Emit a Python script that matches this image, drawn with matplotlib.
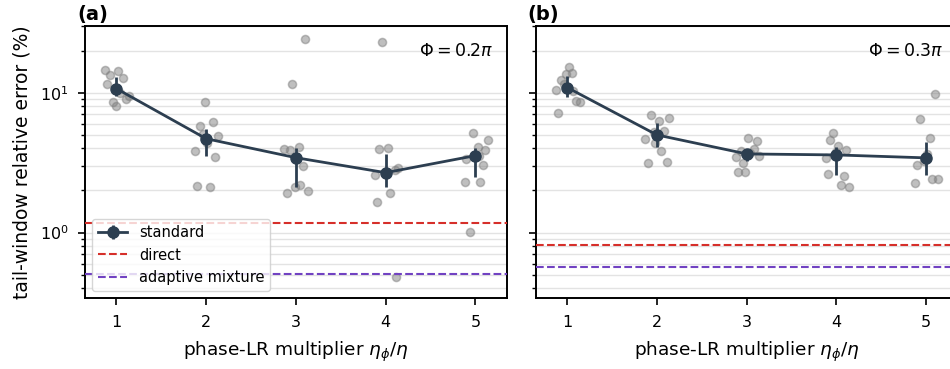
import numpy as np
import matplotlib
matplotlib.use("Agg")
import matplotlib.pyplot as plt

# --------------------------------------------------
# data
# --------------------------------------------------
mult = [1, 2, 3, 4, 5]

# panel (a): Phi = 0.2 pi
mean_a = [10.7, 4.69, 3.43, 2.68, 3.55]
lo_a = [9.4, 3.55, 2.13, 2.10, 2.50]
hi_a = [13.0, 5.53, 4.05, 3.67, 4.05]
seeds_a = [
    [14.5, 13.4, 14.2, 12.7, 11.5, 8.6, 8.0, 9.0, 9.5, 10.0],
    [8.58, 5.78, 6.21, 4.93, 3.81, 3.47, 2.16, 2.11, 4.35, 5.07],
    [11.5, 24.2, 3.98, 3.92, 4.11, 2.98, 1.91, 2.11, 2.19, 1.97],
    [23.2, 3.98, 4.05, 2.58, 2.91, 2.82, 1.93, 1.64, 0.48, 2.70],
    [5.15, 4.61, 4.06, 3.87, 3.36, 3.05, 2.30, 2.31, 1.01, 3.55],
]
jit_a = [
    [-0.13, -0.07, 0.02, 0.07, -0.10, -0.04, -0.01, 0.11, 0.14, 0.04],
    [-0.01, -0.07, 0.08, 0.13, -0.13, 0.10, -0.10, 0.04, 0.01, -0.03],
    [-0.04, 0.10, -0.13, -0.07, 0.03, 0.08, -0.10, -0.01, 0.05, 0.13],
    [-0.04, -0.07, 0.03, -0.12, 0.14, 0.10, 0.05, -0.10, 0.11, 0.01],
    [-0.03, 0.14, 0.03, 0.11, -0.10, 0.08, -0.12, 0.05, -0.06, 0.04],
]
direct_a = 1.17
adaptive_a = 0.507

# panel (b): Phi = 0.3 pi
mean_b = [10.9, 4.99, 3.65, 3.59, 3.42]
lo_b = [9.25, 4.06, 3.27, 2.59, 2.59]
hi_b = [13.2, 6.04, 3.96, 4.11, 4.47]
seeds_b = [
    [15.4, 13.6, 13.8, 12.4, 11.5, 10.4, 10.3, 8.77, 8.53, 7.2],
    [6.93, 6.31, 6.63, 5.35, 4.69, 4.37, 3.85, 3.16, 3.18, 5.2],
    [4.74, 4.52, 3.47, 3.55, 3.13, 2.73, 2.70, 3.96, 3.85, 3.7],
    [5.15, 4.61, 4.16, 3.92, 3.42, 2.62, 2.55, 2.20, 2.12, 3.75],
    [9.84, 6.52, 4.77, 3.06, 2.26, 2.42, 2.42, 3.27, 3.65],
]
jit_b = [
    [0.02, -0.01, 0.05, -0.07, -0.04, -0.13, 0.07, 0.10, 0.14, -0.10],
    [-0.07, 0.02, 0.13, 0.08, -0.13, -0.02, 0.05, -0.10, 0.11, -0.03],
    [0.02, 0.11, -0.12, 0.14, -0.04, -0.10, -0.02, 0.08, -0.06, 0.04],
    [-0.04, -0.07, 0.02, 0.11, -0.12, -0.09, 0.08, 0.05, 0.14, -0.01],
    [0.10, -0.07, 0.04, -0.10, -0.12, 0.07, 0.13, -0.02, 0.01],
]
direct_b = 0.82
adaptive_b = 0.562

# --------------------------------------------------
# figure
# --------------------------------------------------
navy = "#2c3e50"
red = "#d62f2a"
purple = "#7142c2"

fig = plt.figure(figsize=(9.5, 3.69), dpi=100)
ax_a = fig.add_axes([0.0895, 0.1924, 0.444, 0.737])
ax_b = fig.add_axes([0.564, 0.1924, 0.444, 0.737], sharey=ax_a)

panels = [
    (ax_a, mean_a, lo_a, hi_a, seeds_a, jit_a, direct_a, adaptive_a, r"$\Phi = 0.2\pi$", "(a)"),
    (ax_b, mean_b, lo_b, hi_b, seeds_b, jit_b, direct_b, adaptive_b, r"$\Phi = 0.3\pi$", "(b)"),
]

for ax, mean, lo, hi, seeds, jit, direct, adaptive, phi_txt, tag in panels:
    for m, vals, offs in zip(mult, seeds, jit):
        ax.scatter(np.array(offs) + m, vals, s=34, color="grey", alpha=0.5,
                   linewidths=1.1, zorder=2)
    mean = np.array(mean)
    yerr = [mean - np.array(lo), np.array(hi) - mean]
    ax.errorbar(mult, mean, yerr=yerr, color=navy, lw=2, elinewidth=2,
                marker="o", ms=8, capsize=0, zorder=4, label="standard")
    ax.axhline(direct, color=red, ls="--", lw=1.5, zorder=3, label="direct")
    ax.axhline(adaptive, color=purple, ls="--", lw=1.5, zorder=3,
               label="adaptive mixture")

    ax.set_yscale("log")
    ax.set_ylim(0.34, 30)
    ax.set_xlim(0.65, 5.35)
    ax.set_xticks(mult)
    ax.grid(True, which="both", axis="y", color="#e3e3e3", lw=1.0, zorder=0)
    ax.set_axisbelow(True)
    ax.tick_params(labelsize=11.5, width=1.2, length=5, pad=7)
    ax.tick_params(which="minor", width=1.0, length=3)
    for sp in ax.spines.values():
        sp.set_linewidth(1.4)
    ax.set_xlabel(r"phase-LR multiplier $\eta_\phi/\eta$", fontsize=13.3,
                  labelpad=7)
    ax.text(0.967, 0.908, phi_txt, transform=ax.transAxes, ha="right",
            va="center", fontsize=12.5)
    ax.text(-0.019, 1.008, tag, transform=ax.transAxes, ha="left",
            va="bottom", fontsize=14, fontweight="bold")

ax_a.set_ylabel("tail-window relative error (%)", fontsize=13.5, labelpad=6)
plt.setp(ax_b.get_yticklabels(), visible=False)
plt.setp(ax_b.get_yticklabels(minor=True), visible=False)

handles, labels = ax_a.get_legend_handles_labels()
order = [labels.index("standard"), labels.index("direct"),
         labels.index("adaptive mixture")]
ax_a.legend([handles[i] for i in order], [labels[i] for i in order],
            loc="lower left", fontsize=10.5, framealpha=0.8)

fig.savefig("out.png", dpi=100)
